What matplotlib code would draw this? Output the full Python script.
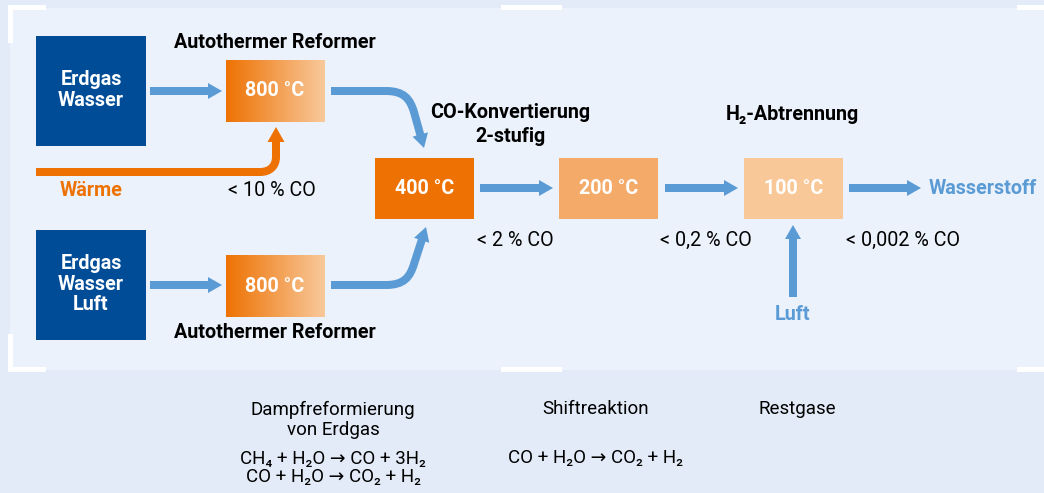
import numpy as np
import matplotlib
matplotlib.use("Agg")
import matplotlib.pyplot as plt
from matplotlib.patches import Rectangle, Polygon, PathPatch
from matplotlib.path import Path
from matplotlib.colors import LinearSegmentedColormap

plt.rcParams['font.family'] = ['Roboto', 'DejaVu Sans']

# Process data
feeds = ["Erdgas\nWasser", "Erdgas\nWasser\nLuft"]
reformer_label = "Autothermer Reformer"
temperatures = [800, 800, 400, 200, 100]
co_levels = ["< 10 % CO", "< 2 % CO", "< 0,2 % CO", "< 0,002 % CO"]
stage_titles = ["CO-Konvertierung\n2-stufig", "H₂-Abtrennung"]
reaction_titles = ["Dampfreformierung\nvon Erdgas", "Shiftreaktion", "Restgase"]
reaction_eqs = ["CH₄ + H₂O → CO + 3H₂\nCO + H₂O → CO₂ + H₂", "CO + H₂O → CO₂ + H₂", ""]

DARK = "#004c97"
BLUE = "#5b9bd5"
ORANGE = "#ee7203"
MID = "#f4aa69"
LIGHT = "#f9c898"
FS = 14.2

fig = plt.figure(figsize=(10.44, 4.93), dpi=100)
fig.patch.set_facecolor("#e2ebf7")
ax = fig.add_axes([0, 0, 1, 1])
ax.set_xlim(0, 1044)
ax.set_ylim(493, 0)
ax.axis("off")

# panel and white frame marks
ax.add_patch(Rectangle((10, 8), 1034, 362, fc="#ebf2fb", ec="none"))
for x0, w in [(8, 38), (501, 61), (1017, 27)]:
    ax.add_patch(Rectangle((x0, 5), w, 5, fc="white", ec="none"))
    ax.add_patch(Rectangle((x0, 367), w, 5, fc="white", ec="none"))
ax.add_patch(Rectangle((8, 5), 5, 38, fc="white", ec="none"))
ax.add_patch(Rectangle((8, 334), 5, 38, fc="white", ec="none"))


def arrow(verts, codes, color, lw=8, hw=16, hl=14):
    verts = np.array(verts, dtype=float)
    tip = verts[-1]
    d = tip - verts[-2]
    d = d / np.hypot(*d)
    n = np.array([-d[1], d[0]])
    base = tip - d * hl
    shaft = verts.copy()
    shaft[-1] = base + d * 1.5
    ax.add_patch(PathPatch(Path(shaft, codes), fc="none", ec=color,
                           lw=lw * 72 / 100, capstyle="butt", joinstyle="round"))
    ax.add_patch(Polygon([tip, base + n * hw / 2, base - n * hw / 2],
                         fc=color, ec="none"))


def label(x, y, txt, color="black", bold=True, size=FS, ls=1.1):
    ax.text(x, y, txt, color=color, fontsize=size, fontweight="bold" if bold else "normal",
            ha="center", va="center", linespacing=ls, zorder=3)


M, L, C = Path.MOVETO, Path.LINETO, Path.CURVE4

# feed boxes
for y0, txt in zip([36, 230], feeds):
    ax.add_patch(Rectangle((36, y0), 110, 110, fc=DARK, ec="none"))
    label(91, y0 + 54, txt, color="white")

# reformer boxes with gradient
cmap = LinearSegmentedColormap.from_list("g", [ORANGE, "#f8c99b"])
grad = np.linspace(0, 1, 256).reshape(1, -1)
for y0, t in zip([60, 255], temperatures[:2]):
    ax.imshow(grad, cmap=cmap, extent=(226, 325, y0 + 62, y0), aspect="auto", zorder=1)
    label(275, y0 + 31, f"{t} °C", color="white")
label(275, 43, reformer_label)
label(275, 333, reformer_label)

# shift and separation boxes
for x0, col, t in zip([375, 559, 744], [ORANGE, MID, LIGHT], temperatures[2:]):
    ax.add_patch(Rectangle((x0, 158), 99, 61, fc=col, ec="none"))
    label(x0 + 49.5, 188.5, f"{t} °C", color="white")

# straight arrows
arrow([(150, 91), (222, 91)], [M, L], BLUE)
arrow([(150, 285), (222, 285)], [M, L], BLUE)
arrow([(480, 188), (553, 188)], [M, L], BLUE)
arrow([(665, 188), (738, 188)], [M, L], BLUE)
arrow([(849, 188), (921, 188)], [M, L], BLUE)
arrow([(793, 297), (793, 225)], [M, L], BLUE)

# curved arrows into the 400 °C stage
arrow([(331, 91), (386, 91), (404, 91), (410, 99), (414, 112), (424, 148)],
      [M, L, C, C, C, L], BLUE)
arrow([(331, 285), (386, 285), (404, 285), (410, 277), (414, 264), (426, 227)],
      [M, L, C, C, C, L], BLUE)

# heat supply
arrow([(36, 172), (260, 172), (270, 172), (276, 166), (276, 157), (276, 127)],
      [M, L, C, C, C, L], ORANGE, lw=8, hw=17, hl=15)
label(91, 191, "Wärme", color=ORANGE)

# CO levels
label(272, 191, co_levels[0], bold=False)
for x, txt in zip([515, 706, 903], co_levels[1:]):
    label(x, 240, txt, bold=False)

label(510, 124.5, stage_titles[0], ls=1.3)
label(792, 114, stage_titles[1])
label(983, 188, "Wasserstoff", color=BLUE)
label(793, 314, "Luft", color=BLUE)

# reactions below
for x, title, eq in zip([333, 596, 797], reaction_titles, reaction_eqs):
    ty = 420 if "\n" in title else 409
    label(x, ty, title, bold=False, size=FS - 0.7)
    if eq:
        ey = 468 if "\n" in eq else 458
        label(x, ey, eq, bold=False, size=FS - 0.7, ls=0.95)

fig.savefig("out.png", dpi=100, facecolor=fig.get_facecolor())
